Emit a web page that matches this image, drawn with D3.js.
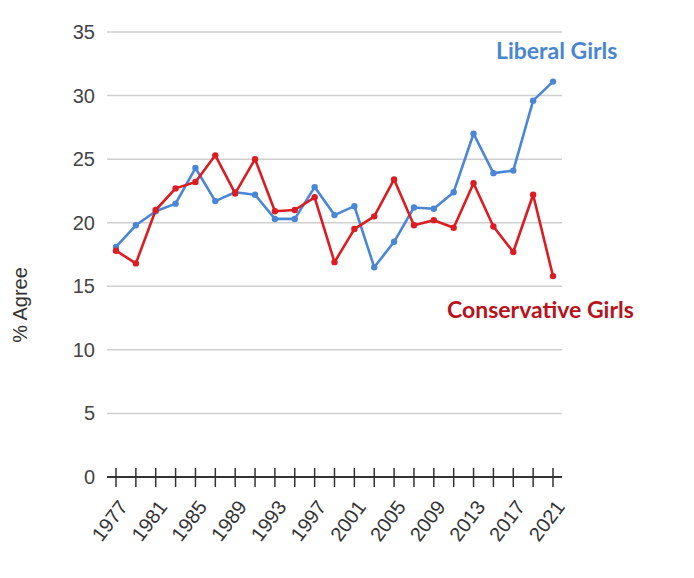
<!DOCTYPE html>
<html>
<head>
<meta charset="utf-8">
<script src="https://cdn.jsdelivr.net/npm/d3@7"></script>
<style>
  body { margin: 0; background: #fff; }
  svg { display: block; }
</style>
</head>
<body>
<div id="chart"></div>
<script>
// survey years, every two years
var years = [1977, 1979, 1981, 1983, 1985, 1987, 1989, 1991, 1993, 1995, 1997, 1999,
  2001, 2003, 2005, 2007, 2009, 2011, 2013, 2015, 2017, 2019, 2021];

// % agree
var liberalGirls = [18.1, 19.8, 20.9, 21.5, 24.3, 21.7, 22.4, 22.2, 20.3, 20.3, 22.8, 20.6,
  21.3, 16.5, 18.5, 21.2, 21.1, 22.4, 27.0, 23.9, 24.1, 29.6, 31.1];
var conservativeGirls = [17.8, 16.8, 21.0, 22.7, 23.2, 25.3, 22.3, 25.0, 20.9, 21.0, 22.0, 16.9,
  19.5, 20.5, 23.4, 19.8, 20.2, 19.6, 23.1, 19.7, 17.7, 22.2, 15.8];

var yTicks = [0, 5, 10, 15, 20, 25, 30, 35];
var xLabels = [1977, 1981, 1985, 1989, 1993, 1997, 2001, 2005, 2009, 2013, 2017, 2021];

var width = 694, height = 578;
var plotLeft = 107, plotRight = 562, plotTop = 32, plotBottom = 477;

var svg = d3.select("#chart").append("svg")
  .attr("width", width)
  .attr("height", height);

var x = d3.scalePoint()
  .domain(years)
  .range([116, 553]);

var y = d3.scaleLinear()
  .domain([0, 35])
  .range([plotBottom, plotTop]);

// gridlines
svg.append("g")
  .selectAll("line")
  .data(yTicks.filter(function (d) { return d > 0; }))
  .enter()
  .append("line")
  .attr("x1", plotLeft)
  .attr("x2", plotRight)
  .attr("y1", function (d) { return y(d); })
  .attr("y2", function (d) { return y(d); })
  .style("stroke", "#cfcfcf")
  .style("stroke-width", 1.5);

// y labels
svg.append("g")
  .selectAll("text")
  .data(yTicks)
  .enter()
  .append("text")
  .attr("x", 95)
  .attr("y", function (d) { return y(d); })
  .attr("dy", "0.35em")
  .attr("text-anchor", "end")
  .style("font-family", "Liberation Sans, Arial, sans-serif")
  .style("font-size", "20px")
  .style("fill", "#444")
  .text(function (d) { return d; });

// y title
svg.append("text")
  .attr("transform", "translate(27,305) rotate(-90)")
  .attr("text-anchor", "middle")
  .style("font-family", "Liberation Sans, Arial, sans-serif")
  .style("font-size", "20px")
  .style("fill", "#333")
  .text("% Agree");

// x axis line with ticks crossing it
svg.append("line")
  .attr("x1", plotLeft)
  .attr("x2", plotRight)
  .attr("y1", plotBottom)
  .attr("y2", plotBottom)
  .style("stroke", "#333")
  .style("stroke-width", 2);

svg.append("g")
  .selectAll("line")
  .data(years)
  .enter()
  .append("line")
  .attr("x1", function (d) { return x(d); })
  .attr("x2", function (d) { return x(d); })
  .attr("y1", plotBottom - 9)
  .attr("y2", plotBottom + 10)
  .style("stroke", "#333")
  .style("stroke-width", 1.5);

// rotated year labels
svg.append("g")
  .selectAll("text")
  .data(xLabels)
  .enter()
  .append("text")
  .attr("transform", function (d) { return "translate(" + (x(d) + 7) + "," + (plotBottom + 26) + ") rotate(-53)"; })
  .attr("text-anchor", "end")
  .attr("dy", "0.35em")
  .style("font-family", "Liberation Sans, Arial, sans-serif")
  .style("font-size", "20px")
  .style("fill", "#333")
  .text(function (d) { return d; });

var line = d3.line()
  .x(function (d, i) { return x(years[i]); })
  .y(function (d) { return y(d); });

function drawSeries(values, color) {
  svg.append("path")
    .datum(values)
    .attr("d", line)
    .style("fill", "none")
    .style("stroke", color)
    .style("stroke-width", 2.6)
    .style("stroke-linejoin", "round");

  svg.append("g")
    .selectAll("circle")
    .data(values)
    .enter()
    .append("circle")
    .attr("cx", function (d, i) { return x(years[i]); })
    .attr("cy", function (d) { return y(d); })
    .attr("r", 3.2)
    .style("fill", color);
}

drawSeries(liberalGirls, "#4a86d6");
drawSeries(conservativeGirls, "#dc1c22");

// series labels
svg.append("text")
  .attr("x", 496)
  .attr("y", 59)
  .style("font-family", "Lato, sans-serif")
  .style("font-weight", "bold")
  .style("font-size", "23px")
  .style("fill", "#4a86d0")
  .text("Liberal Girls");

svg.append("text")
  .attr("x", 447)
  .attr("y", 318)
  .style("font-family", "Lato, sans-serif")
  .style("font-weight", "bold")
  .style("font-size", "23px")
  .style("fill", "#b8121b")
  .text("Conservative Girls");
</script>
</body>
</html>
